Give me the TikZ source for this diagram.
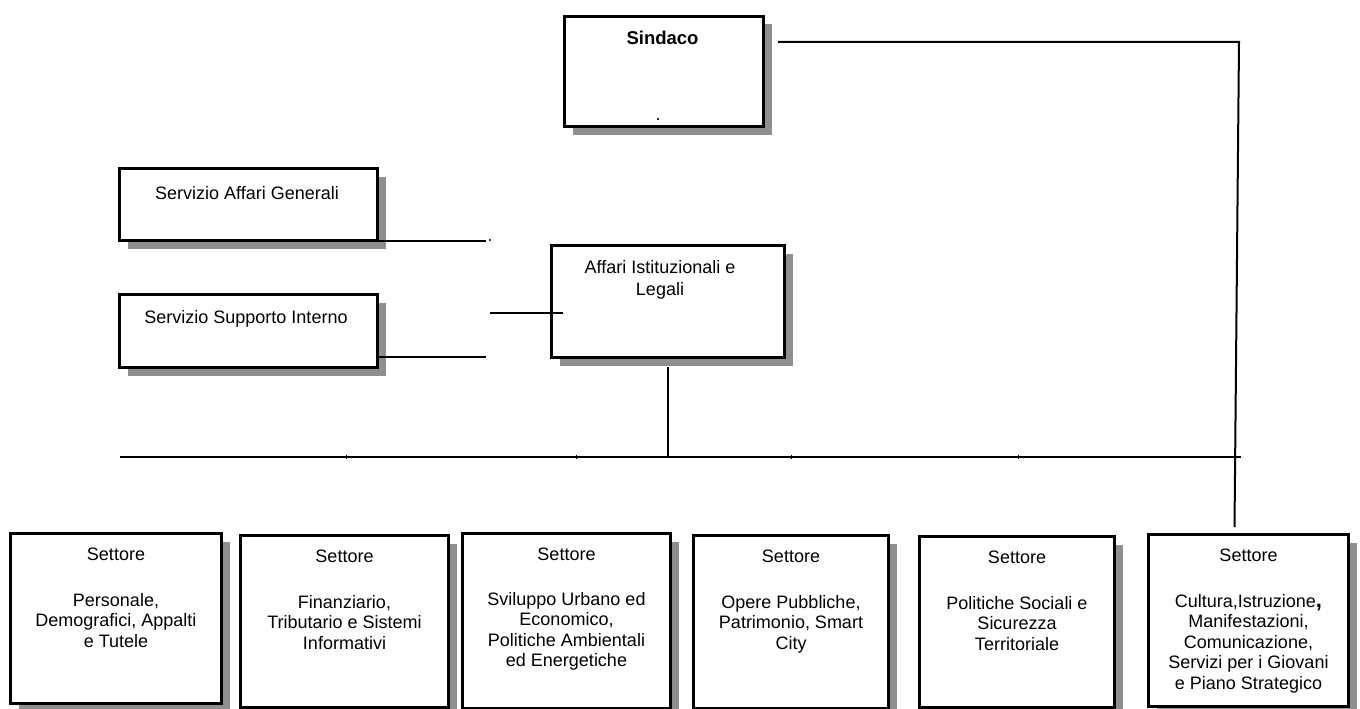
\documentclass[tikz,border=0pt]{standalone}
\usepackage{fontspec}
\setmainfont{Liberation Sans}
\usetikzlibrary{shadows}
\definecolor{shadowgray}{gray}{0.56}
\begin{document}
\begin{tikzpicture}[x=1pt,y=-1pt,
  box/.style={draw=black, line width=3pt, fill=white,
    drop shadow={shadow xshift=8pt, shadow yshift=-8pt, fill=shadowgray, opacity=1},
    inner sep=0pt, anchor=north west},
  conn/.style={line width=2pt},
  tick/.style={line width=0.8pt},
  txt/.style={font=\fontsize{18}{20.5}\selectfont, align=center, inner sep=0pt, anchor=base},
  mtxt/.style={font=\fontsize{18}{20.5}\selectfont, align=center, inner sep=0pt, anchor=north}]
\useasboundingbox (0,0) rectangle (1360,709);

% boxes
\node[box, minimum width=199pt, minimum height=110pt] (sindaco) at (563,15) {};
\node[box, minimum width=258pt, minimum height=72pt] (sag) at (118,167) {};
\node[box, minimum width=258pt, minimum height=73pt] (ssi) at (118,293) {};
\node[box, minimum width=233pt, minimum height=112pt] (affari) at (550,244) {};
\node[box, minimum width=211pt, minimum height=170pt] (b1) at (9,532) {};
\node[box, minimum width=208pt, minimum height=172pt] (b2) at (239,534) {};
\node[box, minimum width=208pt, minimum height=175pt] (b3) at (461,532) {};
\node[box, minimum width=195pt, minimum height=173pt] (b4) at (692,534) {};
\node[box, minimum width=195pt, minimum height=171pt] (b5) at (918,535) {};
\node[box, minimum width=200pt, minimum height=172pt] (b6) at (1147,533) {};

% texts
\node[txt, font=\fontsize{18.5}{20.5}\selectfont\bfseries] (sindacot) at (662.5,45) {Sindaco};
\node[txt] (sindacodot) at (658,120) {.};
\node[txt] (sagt) at (247,199) {Servizio Affari Generali};
\node[txt] (ssit) at (246,323) {Servizio Supporto Interno};
\node[mtxt] (affarit) at (660,260) {Affari Istituzionali e\\[1.5pt]Legali};
\node[mtxt] (t1) at ([yshift=-16pt]b1.north) {Settore\\[25pt]Personale,\\Demografici, Appalti\\e Tutele};
\node[mtxt] (t2) at ([yshift=-16pt]b2.north) {Settore\\[25pt]Finanziario,\\Tributario e Sistemi\\Informativi};
\node[mtxt] (t3) at ([yshift=-16pt]b3.north) {Settore\\[24pt]Sviluppo Urbano ed\\Economico,\\Politiche Ambientali\\ed Energetiche};
\node[mtxt] (t4) at ([yshift=-16pt]b4.north) {Settore\\[25pt]Opere Pubbliche,\\Patrimonio, Smart\\City};
\node[mtxt] (t5) at ([yshift=-16pt]b5.north) {Settore\\[25pt]Politiche Sociali e\\Sicurezza\\Territoriale};
\node[mtxt] (t6) at ([yshift=-16pt]b6.north) {Settore\\[25pt]Cultura,Istruzione{\fontsize{22}{20.5}\selectfont\bfseries ,}\\Manifestazioni,\\Comunicazione,\\Servizi per i Giovani\\e Piano Strategico};

% connectors
\coordinate (sc1) at ([shift={(13,27)}]sindaco.north east);
\coordinate (sc2) at (1239,42);
\coordinate (sc3) at ([shift={(-14,-6)}]b6.north);
\draw[conn] (sc1) -- (sc2) -- (sc3);

\draw[conn] ([yshift=1pt]sag.south east) -- ++(107,0) coordinate (sage);
\fill (490,240) circle (1.1pt);
\draw[conn] ([yshift=12pt]ssi.south east) -- ++(107,0) coordinate (ssie);
\draw[conn] ([shift={(-60,11)}]affari.west) -- ([shift={(13,11)}]affari.west);

\coordinate (hl) at (120,457);
\coordinate (hr) at (1241,457);
\draw[conn] (hl) -- (hr);
\draw[conn] ([yshift=-8pt]affari.south) -- (affari.south |- hl);
\foreach \tx in {346,576,791,1018} \draw[tick] (\tx,455) -- (\tx,459);
\end{tikzpicture}
\end{document}
